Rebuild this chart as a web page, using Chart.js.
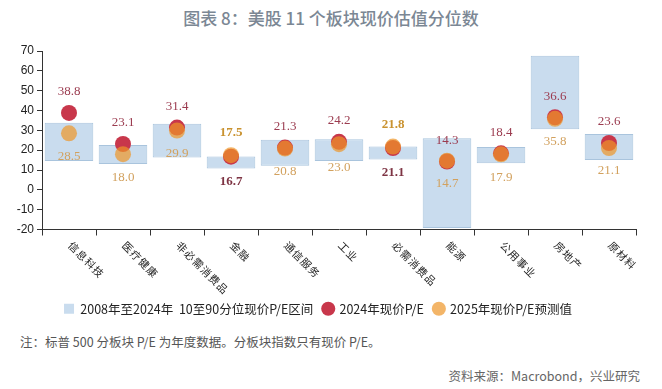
<!DOCTYPE html>
<html>
<head>
<meta charset="utf-8">
<script src="https://cdn.jsdelivr.net/npm/chart.js@4"></script>
<style>
  body { margin: 0; width: 662px; height: 389px; background: #fff; position: relative; overflow: hidden;
         font-family: "Noto Sans CJK SC", "Noto Sans", sans-serif; }
  #title { position: absolute; top: 5px; left: 0; width: 662px; text-align: center;
           font-size: 17px; font-weight: 500; color: #7b8794; }
  #box { position: absolute; top: 40px; left: 0; width: 662px; height: 285px; }
  #note { position: absolute; top: 332px; left: 20px; font-size: 12.5px; color: #555; }
  #source { position: absolute; top: 366px; right: 22px; font-size: 12.5px; color: #666; }
</style>
</head>
<body>
<div id="title">图表 8：美股 11 个板块现价估值分位数</div>
<div id="box"><canvas id="myChart"></canvas></div>
<div id="note">注：标普 500 分板块 P/E 为年度数据。分板块指数只有现价 P/E。</div>
<div id="source">资料来源：Macrobond，兴业研究</div>
<script>
const categories = ['信息科技', '医疗健康', '非必需消费品', '金融', '通信服务', '工业', '必需消费品', '能源', '公用事业', '房地产', '原材料'];
// 2008-2024 10th..90th percentile P/E range
const rangeLow  = [14.5, 13.0, 16.3, 10.7, 12.2, 14.5, 15.3, -19.2, 13.4, 30.6, 15.0];
const rangeHigh = [33.8, 22.6, 33.3, 16.8, 25.2, 25.5, 21.9, 26.0, 21.6, 67.6, 28.2];
const pe2024 = [38.8, 23.1, 31.4, 16.7, 21.3, 24.2, 21.1, 14.3, 18.4, 36.6, 23.6];
const pe2025 = [28.5, 18.0, 29.9, 17.5, 20.8, 23.0, 21.8, 14.7, 17.9, 35.8, 21.1];
const yTicks = [-20, -10, 0, 10, 20, 30, 40, 50, 60, 70];

// sectors where the 2025 label sits on top, printed bold
const swapped = ['金融', '必需消费品'];

const valueLabels = {
  id: 'valueLabels',
  afterDatasetsDraw(chart) {
    const ctx = chart.ctx;
    const xs = chart.scales.x, ys = chart.scales.y;
    ctx.save();
    ctx.textAlign = 'center';
    ctx.textBaseline = 'middle';
    categories.forEach((c, i) => {
      const x = xs.getPixelForValue(i);
      const r = pe2024[i], o = pe2025[i];
      if (swapped.includes(c)) {
        ctx.font = 'bold 13px "Liberation Serif"';
        ctx.fillStyle = '#c9922f';
        ctx.fillText(o.toFixed(1), x, ys.getPixelForValue(Math.max(r, o)) - 22);
        ctx.fillStyle = '#7e3444';
        ctx.fillText(r.toFixed(1), x, ys.getPixelForValue(Math.min(r, o)) + 25);
      } else {
        ctx.font = '13px "Liberation Serif"';
        ctx.fillStyle = '#9b3b4f';
        ctx.fillText(r.toFixed(1), x, ys.getPixelForValue(r) - 21);
        ctx.fillStyle = '#d2a15e';
        ctx.fillText(o.toFixed(1), x, ys.getPixelForValue(o) + 23);
      }
    });
    ctx.restore();
  }
};

const slantLabels = {
  id: 'slantLabels',
  afterDraw(chart) {
    const ctx = chart.ctx;
    const xs = chart.scales.x;
    ctx.save();
    ctx.font = '10.5px "Noto Sans CJK SC"';
    ctx.fillStyle = '#222';
    ctx.textAlign = 'left';
    ctx.textBaseline = 'middle';
    ctx.letterSpacing = '1px';
    categories.forEach((c, i) => {
      ctx.save();
      ctx.translate(xs.getPixelForValue(i) + 1, xs.top + 14);
      ctx.rotate(Math.PI / 4);
      ctx.fillText(c, 0, 0);
      ctx.restore();
    });
    ctx.restore();
  }
};

const ctx = document.getElementById('myChart').getContext('2d');

const myChart = new Chart(ctx, {
  data: {
    labels: categories,
    datasets: [{
      type: 'bar',
      label: '2008年至2024年  10至90分位现价P/E区间',
      data: categories.map((c, i) => [rangeLow[i], rangeHigh[i]]),
      backgroundColor: '#c9dcee',
      borderColor: '#a9c4dd',
      borderWidth: 1,
      borderSkipped: false,
      barPercentage: 0.9,
      categoryPercentage: 1,
      order: 2
    }, {
      type: 'line',
      label: '2024年现价P/E',
      data: pe2024,
      showLine: false,
      pointRadius: 8,
      pointHoverRadius: 8,
      pointBorderWidth: 0,
      backgroundColor: '#c8374b',
      borderColor: '#c8374b',
      order: 1
    }, {
      type: 'line',
      label: '2025年现价P/E预测值',
      data: pe2025,
      showLine: false,
      pointRadius: 8,
      pointHoverRadius: 8,
      pointBorderWidth: 0,
      backgroundColor: 'rgba(238,150,40,0.7)',
      borderColor: 'rgba(238,150,40,0.7)',
      order: 0
    }]
  },
  options: {
    responsive: true,
    maintainAspectRatio: false,
    animation: false,
    layout: { padding: { top: 11, right: 26, left: 0, bottom: 0 } },
    plugins: {
      tooltip: { enabled: false },
      legend: {
        position: 'bottom',
        labels: {
          usePointStyle: true,
          boxWidth: 10,
          boxHeight: 10,
          padding: 10,
          color: '#222',
          font: { family: '"Noto Sans CJK SC"', size: 12.5 },
          sort: (a, b) => a.datasetIndex - b.datasetIndex,
          generateLabels(chart) {
            const items = Chart.defaults.plugins.legend.labels.generateLabels(chart);
            items.forEach(it => { it.pointStyle = it.datasetIndex === 0 ? 'rect' : 'circle'; it.lineWidth = 0; });
            return items;
          }
        }
      }
    },
    scales: {
      x: {
        offset: true,
        grid: { drawOnChartArea: false, drawTicks: true, tickLength: 6, color: '#333', offset: true },
        border: { color: '#333' },
        ticks: { display: false },
        afterFit: s => { s.height = 63; }
      },
      y: {
        min: yTicks[0],
        max: yTicks[yTicks.length - 1],
        afterBuildTicks: s => { s.ticks = yTicks.map(v => ({ value: v })); },
        grid: { drawOnChartArea: false, drawTicks: true, tickLength: 5, color: '#333' },
        border: { color: '#333' },
        ticks: { color: '#222', padding: 3, font: { family: '"Liberation Sans Narrow", "Liberation Sans"', size: 12 } },
        afterFit: s => { s.width = 42; }
      }
    }
  },
  plugins: [valueLabels, slantLabels]
});
</script>
</body>
</html>
